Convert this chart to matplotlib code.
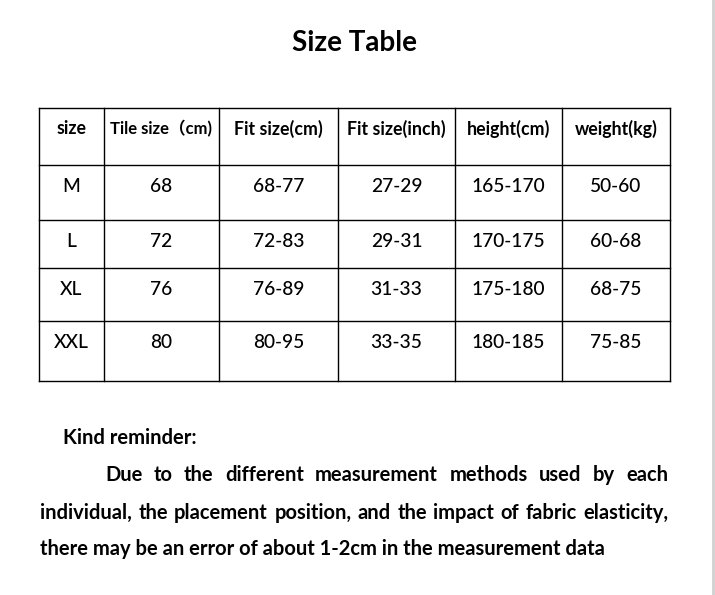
import matplotlib.pyplot as plt

# table data
headers = ['size', 'Tile size\uff08cm)', 'Fit size(cm)', 'Fit size(inch)', 'height(cm)', 'weight(kg)']
sizes = ['M', 'L', 'XL', 'XXL']
tile_cm = ['68', '72', '76', '80']
fit_cm = ['68-77', '72-83', '76-89', '80-95']
fit_inch = ['27-29', '29-31', '31-33', '33-35']
height_cm = ['165-170', '170-175', '175-180', '180-185']
weight_kg = ['50-60', '60-68', '68-75', '75-85']

title = 'Size Table'
reminder_head = 'Kind reminder:'
reminder_lines = [
    'Due to the different measurement methods used by each',
    'individual, the placement position, and the impact of fabric elasticity,',
    'there may be an error of about 1-2cm in the measurement data',
]

# layout (pixels)
col_edges = [39, 104, 219, 338, 455, 562, 670]
row_edges = [108, 165, 220, 268, 321, 381]
fam = ['Lato', 'Noto Sans CJK SC', 'DejaVu Sans']
body_fs = 14.5
head_fs = [12.8, 12.0, 12.8, 12.8, 12.8, 12.8]

fig = plt.figure(figsize=(7.15, 5.95), dpi=100)
ax = fig.add_axes([0, 0, 1, 1])
ax.set_xlim(0, 715)
ax.set_ylim(595, 0)
ax.axis('off')

ax.text(354, 43, title, ha='center', va='center', fontsize=20, fontweight='bold', family=fam)

for x in col_edges:
    ax.plot([x, x], [row_edges[0], row_edges[-1]], color='black', lw=1)
for y in row_edges:
    ax.plot([col_edges[0], col_edges[-1]], [y, y], color='black', lw=1)

cols = [sizes, tile_cm, fit_cm, fit_inch, height_cm, weight_kg]
for j, h in enumerate(headers):
    xc = (col_edges[j] + col_edges[j + 1]) / 2
    ax.text(xc, row_edges[0] + 21, h, ha='center', va='center', fontsize=head_fs[j],
            fontweight='bold', family=fam)
    for i, v in enumerate(cols[j]):
        ax.text(xc, row_edges[i + 1] + 21.5, v, ha='center', va='center', fontsize=13.8,
                fontweight='medium', family=fam)

# reminder paragraph
ax.text(63, 438, reminder_head, ha='left', va='center', fontsize=body_fs, fontweight='bold', family=fam)

fig.canvas.draw()
renderer = fig.canvas.get_renderer()


def word_width(w):
    t = ax.text(0, 0, w, fontsize=body_fs, fontweight='bold', family=fam)
    bb = t.get_window_extent(renderer)
    t.remove()
    return bb.width


starts = [105, 40, 40]
ys = [475, 513, 549]
right = 668
for k, line in enumerate(reminder_lines):
    words = line.split(' ')
    if k < 2:
        widths = [word_width(w) for w in words]
        gap = (right - starts[k] - sum(widths)) / (len(words) - 1)
        x = starts[k]
        for w, wd in zip(words, widths):
            ax.text(x, ys[k], w, ha='left', va='center', fontsize=body_fs, fontweight='bold', family=fam)
            x += wd + gap
    else:
        ax.text(starts[k], ys[k], line, ha='left', va='center', fontsize=body_fs,
                fontweight='bold', family=fam)

ax.plot([713, 713], [0, 595], color='#d0d0d0', lw=2)

fig.savefig('out.png', dpi=100)
